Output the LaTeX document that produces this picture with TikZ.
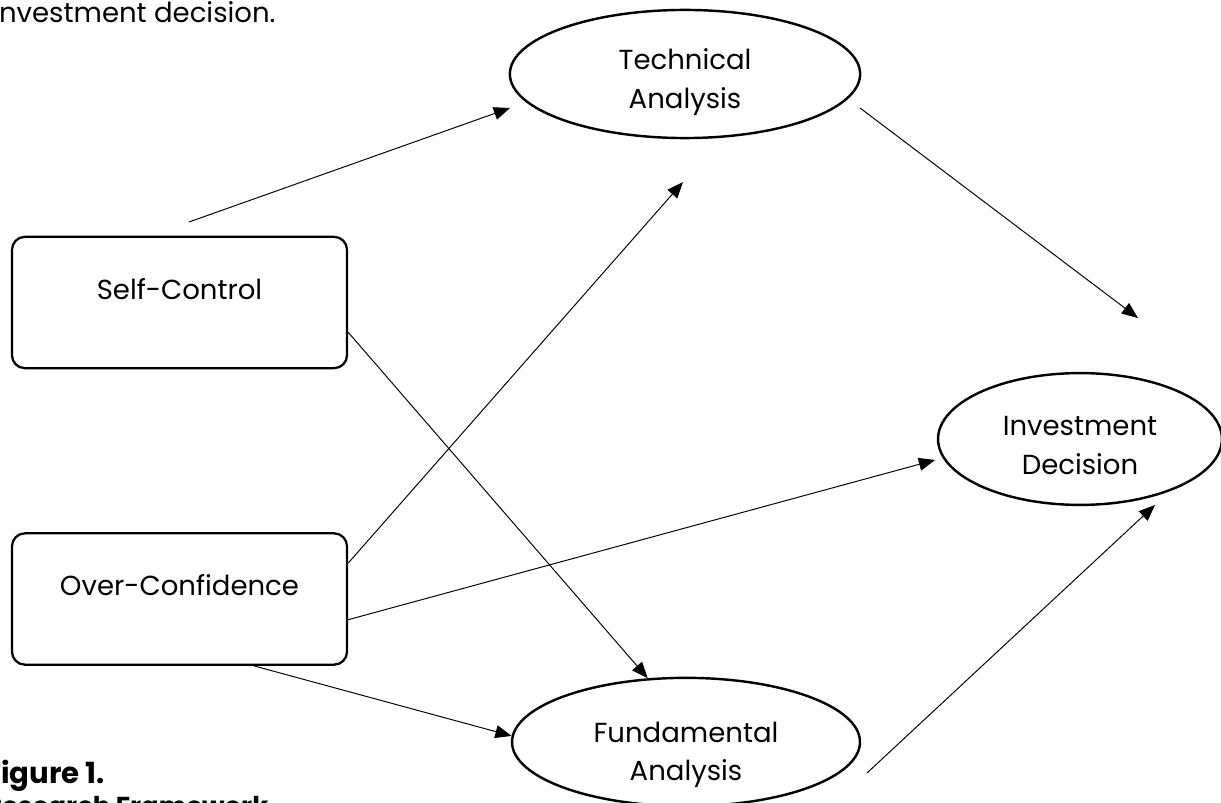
\documentclass[tikz,border=0pt]{standalone}
\usepackage{fontspec}
\setmainfont{Poppins}
\usetikzlibrary{shapes.geometric, arrows.meta}

\begin{document}
\begin{tikzpicture}[x=0.0217cm, y=-0.0217cm, font=\fontsize{17}{24}\selectfont,
    box/.style={draw, line width=1.4pt, rounded corners=8pt, minimum width=7.27cm, minimum height=2.85cm, inner sep=0pt, text height=13pt, text depth=17pt},
    oval/.style={draw, ellipse, line width=1.5pt, align=center, inner sep=0pt, text height=46pt, text depth=4pt},
    link/.style={-{Triangle[length=10pt, width=8pt]}, line width=0.6pt}]
    \useasboundingbox (0,0) rectangle (1221,803);
    \clip (0,0) rectangle (1221,803);

    % Surrounding text
    \node[anchor=base west, inner sep=0pt] (intro) at (-8,23) {Investment decision.};
    \node[anchor=base west, inner sep=0pt, font=\fontsize{18}{24}\selectfont\bfseries] (fig) at (-15,783) {Figure 1.};
    \node[anchor=base west, inner sep=0pt, font=\fontsize{16}{24}\selectfont\bfseries] (figtitle) at (-15,815) {Research Framework};

    % Components
    \node[box] (self) at (179.5,302.5) {Self-Control};
    \node[box] (over) at (179.5,599) {Over-Confidence};

    \node[oval, minimum width=7.6cm, minimum height=2.78cm] (tech) at (685,74) {Technical\\Analysis};
    \node[oval, minimum width=7.55cm, minimum height=2.6cm, text height=52pt] (fund) at (686,742) {Fundamental\\Analysis};
    \node[oval, minimum width=6.16cm, minimum height=2.86cm, text height=48pt] (invest) at (1080,439) {Investment\\Decision};

    % Free ends
    \coordinate (selfout) at (189,222);
    \coordinate (techin) at (510,108);
    \coordinate (techin2) at (683,182);
    \coordinate (investin) at (935,460);
    \coordinate (techout) at (860,108);
    \coordinate (investin2) at (1138,318);
    \coordinate (fundout) at (867,773);
    \coordinate (investin3) at (1155,505);

    % Connections
    \draw[link] (selfout) -- (techin);
    \draw[link] (self.-10.3) -- (fund.121);
    \draw[link] (over.12.5) -- (techin2);
    \draw[link] (over.-7.7) -- (investin);
    \draw[link] (over.-42.8) -- (fund.178);
    \draw[link] (techout) -- (investin2);
    \draw[link] (fundout) -- (investin3);
\end{tikzpicture}
\end{document}
